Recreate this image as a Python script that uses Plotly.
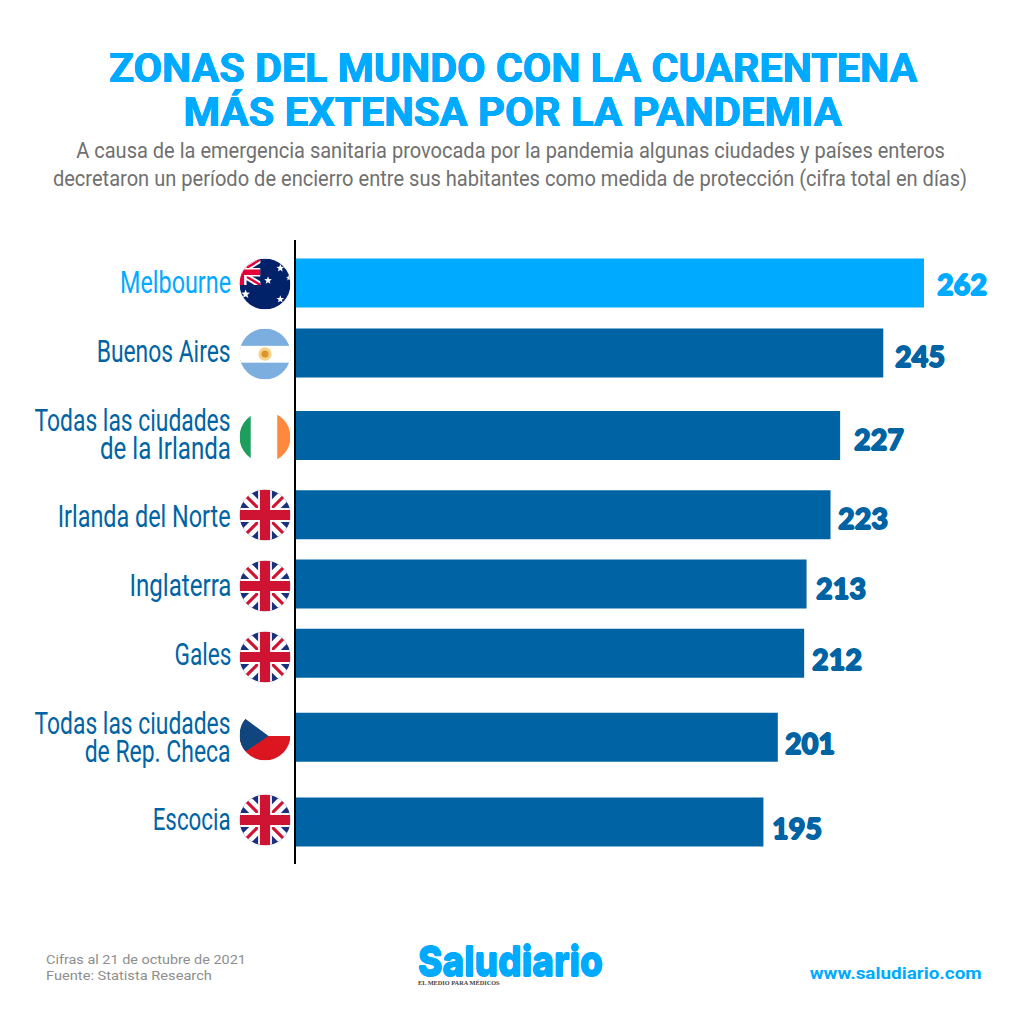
import base64
import json
import math
import plotly.graph_objects as go

# ---------- data ----------
places = ["Melbourne", "Buenos Aires", "Todas las ciudades de la Irlanda", "Irlanda del Norte",
          "Inglaterra", "Gales", "Todas las ciudades de Rep. Checa", "Escocia"]
label_lines = [["Melbourne"], ["Buenos Aires"], ["Todas las ciudades", "de la Irlanda"], ["Irlanda del Norte"],
               ["Inglaterra"], ["Gales"], ["Todas las ciudades", "de Rep. Checa"], ["Escocia"]]
days = [262, 245, 227, 223, 213, 212, 201, 195]
row_position = [0, 1, 2.18, 3.31, 4.3, 5.29, 6.49, 7.7]
flags = ["au", "ar", "ie", "uk", "uk", "uk", "cz", "uk"]
title_lines = ["ZONAS DEL MUNDO CON LA CUARENTENA", "MÁS EXTENSA POR LA PANDEMIA"]
subtitle_lines = ["A causa de la emergencia sanitaria provocada por la pandemia algunas ciudades y países enteros",
                  "decretaron un período de encierro entre sus habitantes como medida de protección (cifra total en días)"]
footer_lines = ["Cifras al 21 de octubre de 2021", "Fuente: Statista Research"]

# ---------- style ----------
LIGHT, DARK, GREY = "#00AAFF", "#0064A4", "#707070"
W = 1024
value_dx = [11, 10, 12, 5, 7, 6, 5, 7]
value_dy = [2, 4, 4, 4, 5, 6, 6, 6]
label_dy = [0, -1, -1, 2, 2, 1, 0, -2]
flag_y = [284, 354, 437, 515, 586, 657, 735, 820]
label_width = {"Melbourne": 111, "Buenos Aires": 134, "Todas las ciudades": 196, "de la Irlanda": 131,
               "Irlanda del Norte": 173, "Inglaterra": 102, "Gales": 57, "de Rep. Checa": 146, "Escocia": 78}
title_width = [809, 659]
subtitle_width = [869, 915]
footer_width = [200, 166]


def heavy(color, d=0.6):
    return f"{d}px 0 0 {color}, -{d}px 0 0 {color}, 0 {d}px 0 {color}, 0 -{d}px 0 {color}"


def jack(red, white, dw, dr, cw, cr):
    return (f'<path d="M0 0L100 100M100 0L0 100" stroke="{white}" stroke-width="{dw}"/>'
            f'<path d="M0 0L100 100M100 0L0 100" stroke="{red}" stroke-width="{dr}"/>'
            f'<path d="M50 0V100M0 50H100" stroke="{white}" stroke-width="{cw}"/>'
            f'<path d="M50 0V100M0 50H100" stroke="{red}" stroke-width="{cr}"/>')


def star(cx, cy, r):
    pts = []
    for i in range(10):
        a = -math.pi / 2 + i * math.pi / 5
        q = r if i % 2 == 0 else r * 0.42
        pts.append(f"{cx + q * math.cos(a):.1f},{cy + q * math.sin(a):.1f}")
    return f'<polygon points="{" ".join(pts)}" fill="#fff"/>'


ART = {
    "uk": '<rect width="100" height="100" fill="#1B2F7F"/>' + jack("#CE1432", "#fff", 24, 6, 27, 20),
    "au": ('<rect width="100" height="100" fill="#012169"/>'
           '<svg x="-41" y="2" width="82" height="50" viewBox="0 0 100 100" preserveAspectRatio="none">'
           + jack("#E4003A", "#fff", 20, 8, 34, 22) + '</svg>'
           + star(56, 43, 8) + star(80, 19, 8) + star(80, 80, 8) + star(97, 38, 6) + star(12, 70, 9)),
    "ar": ('<rect width="100" height="100" fill="#7DAEE0"/>'
           '<rect y="34" width="100" height="33" fill="#fff"/>'
           '<circle cx="50" cy="50" r="13" fill="#F4D28A"/><circle cx="50" cy="50" r="7" fill="#D9962F"/>'),
    "ie": ('<rect width="100" height="100" fill="#fff"/>'
           '<rect width="22" height="100" fill="#1E9E5E"/>'
           '<rect x="74" width="26" height="100" fill="#FF883E"/>'),
    "cz": ('<rect width="100" height="100" fill="#fff"/>'
           '<rect y="52" width="100" height="48" fill="#DC1620"/>'
           '<path d="M0 10L57 52L0 90Z" fill="#11457E"/>'),
}


def flag_uri(code):
    svg = ('<svg xmlns="http://www.w3.org/2000/svg" viewBox="0 0 100 100">'
           '<defs><clipPath id="c"><circle cx="50" cy="50" r="50"/></clipPath></defs>'
           f'<g clip-path="url(#c)">{ART[code]}</g></svg>')
    return "data:image/svg+xml;base64," + base64.b64encode(svg.encode()).decode()


ann, fits = [], {}


def note(text, px, py, size, color, family="Roboto", anchor="center", weight=None, width=None, shadow=None):
    nudge = {"left": -2, "right": 2, "center": 0}[anchor]
    if width:
        fits[len(ann)] = [width, anchor]
    ann.append(dict(text=text, x=(px + nudge) / W, y=1 - py / W, xref="paper", yref="paper", xanchor=anchor,
                    yanchor="middle", showarrow=False, align=anchor,
                    font=dict(size=size, color=color, family=family, weight=weight, shadow=shadow or "none")))


colors = [LIGHT] + [DARK] * (len(days) - 1)
fig = go.Figure(go.Bar(x=days, y=row_position, orientation="h", width=0.7,
                       marker=dict(color=colors, line_width=0), customdata=places,
                       hovertemplate="%{customdata}: %{x}<extra></extra>"))

for line, py, w in zip(title_lines, [68, 112], title_width):
    note(line, 513, py, 41, LIGHT, weight=700, width=w, shadow=heavy(LIGHT, 0.4))
for line, py, w in zip(subtitle_lines, [150, 179], subtitle_width):
    note(line, 510, py, 21.5, GREY, width=w)

for i, (lines, v, c) in enumerate(zip(label_lines, days, colors)):
    centre = 240 + (row_position[i] + 0.614) * 70 + label_dy[i]
    fits[len(ann)] = [50, "left"]
    ann.append(dict(text=str(v), x=v, y=row_position[i], xref="x", yref="y", xanchor="left", yanchor="middle",
                    xshift=value_dx[i], yshift=-value_dy[i], showarrow=False,
                    font=dict(size=27.5, color=c, family="Lato", weight=900, shadow=heavy(c, 0.8))))
    offs = [0] if len(lines) == 1 else [-14, 14]
    for line, o in zip(lines, offs):
        note(line, 231, centre + o - 0.5, 32, c, anchor="right", width=label_width[line])

for line, py, w in zip(footer_lines, [959, 975], footer_width):
    note(line, 46, py, 13.5, "#8E8E8E", anchor="left", width=w)
note("Saludiario", 418, 961, 41, LIGHT, family="Inter", anchor="left", weight=800, width=185, shadow=heavy(LIGHT, 0.5))
note("EL MEDIO PARA MÉDICOS", 418, 982, 6.3, "#444444", family="Liberation Serif", anchor="left", weight=700)
note("www.saludiario.com", 982, 973, 16, LIGHT, anchor="right", weight=700, width=172)

images = [dict(source=flag_uri(code), xref="paper", yref="paper", x=265 / W, y=1 - py / W, sizex=51 / W, sizey=51 / W,
               xanchor="center", yanchor="middle", layer="above", sizing="contain")
          for code, py in zip(flags, flag_y)]

fig.update_layout(
    width=W, height=W, margin=dict(l=0, r=0, t=0, b=0), paper_bgcolor="white", plot_bgcolor="white",
    showlegend=False, annotations=ann, images=images,
    xaxis=dict(domain=[296 / W, 1], range=[0, 728 / 2.397], visible=False, fixedrange=True),
    yaxis=dict(domain=[1 - 864 / W, 1 - 240 / W], range=[8.3, -0.614], showticklabels=False, ticks="",
               showgrid=False, zeroline=False, showline=True, linecolor="black", linewidth=2, fixedrange=True),
)

# No narrow font is installed: squeeze real text horizontally to the reference's line widths.
post = """
document.body.style.margin = '0';
var fits = %s;
document.querySelectorAll('.annotation').forEach(function (g) {
  var f = fits[g.getAttribute('data-index')];
  if (!f) return;
  var t = g.querySelector('text');
  var s = f[0] / t.getBBox().width;
  t.style.transformBox = 'fill-box';
  t.style.transformOrigin = f[1] + ' center';
  t.style.transform = 'scaleX(' + s + ')';
});
""" % json.dumps(fits)
fig.write_html("out.html", config={"displayModeBar": False}, post_script=post)
